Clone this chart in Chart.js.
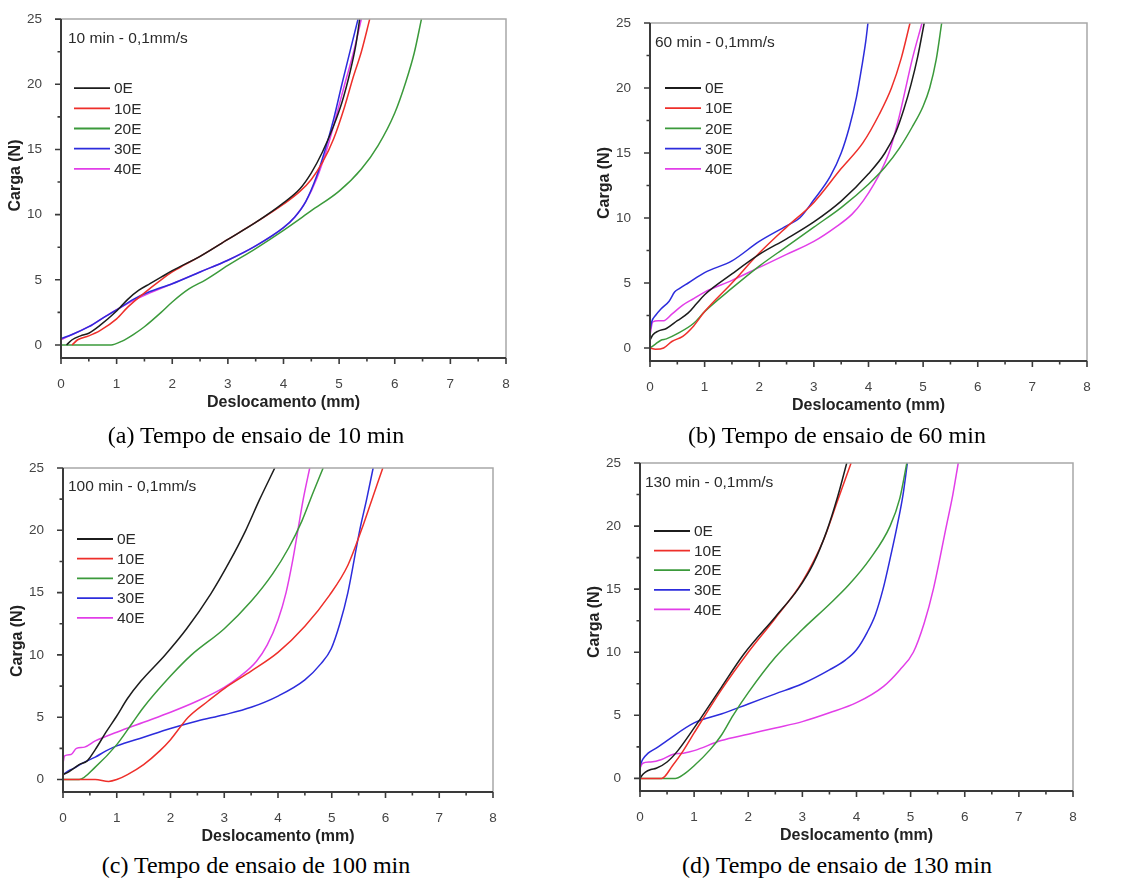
<!DOCTYPE html>
<html><head><meta charset="utf-8">
<script src="https://cdn.jsdelivr.net/npm/chart.js@4.4.1/dist/chart.umd.min.js"></script>
<style>
html,body{margin:0;padding:0;background:#fff;width:1140px;height:878px;overflow:hidden}
.panel{position:absolute}
.panel canvas{display:block}
.cap{position:absolute;font-family:"Liberation Serif","Times New Roman",serif;font-size:24px;line-height:28px;color:#000;white-space:nowrap;transform:translateX(-50%)}
</style></head><body>
<div class="panel" style="left:0;top:0"><canvas id="ca" width="565" height="420"></canvas></div>
<div class="panel" style="left:570px;top:0"><canvas id="cb" width="570" height="420"></canvas></div>
<div class="panel" style="left:0;top:440px"><canvas id="cc" width="565" height="410"></canvas></div>
<div class="panel" style="left:570px;top:440px"><canvas id="cd" width="570" height="410"></canvas></div>
<div class="cap" style="left:256px;top:421px">(a) Tempo de ensaio de 10 min</div>
<div class="cap" style="left:837px;top:421px">(b) Tempo de ensaio de 60 min</div>
<div class="cap" style="left:256px;top:851px">(c) Tempo de ensaio de 100 min</div>
<div class="cap" style="left:837px;top:851px">(d) Tempo de ensaio de 130 min</div>
<script>
// ---------- data ----------
const SERIES = ['0E', '10E', '20E', '30E', '40E'];
const X_TICKS = [0, 1, 2, 3, 4, 5, 6, 7, 8];
const X_MINOR = [0.5, 1.5, 2.5, 3.5, 4.5, 5.5, 6.5, 7.5];
const Y_TICKS = [0, 5, 10, 15, 20, 25];
const Y_MINOR = [2.5, 7.5, 12.5, 17.5, 22.5];
const X_TITLE = 'Deslocamento (mm)';
const Y_TITLE = 'Carga (N)';
const NOTES = ['10 min - 0,1mm/s', '60 min - 0,1mm/s', '100 min - 0,1mm/s', '130 min - 0,1mm/s'];

// (a) 10 min
const A_X_0E  = [0.1, 0.2, 0.35, 0.5, 0.7, 1.0, 1.2, 1.4, 1.6, 1.8, 2.0, 2.5, 3.0, 3.5, 4.0, 4.3, 4.5, 4.7, 4.9, 5.05, 5.2, 5.3, 5.37];
const A_Y_0E  = [0, 0.4, 0.7, 0.9, 1.5, 2.6, 3.5, 4.2, 4.7, 5.2, 5.7, 6.8, 8.1, 9.4, 10.9, 12.0, 13.2, 14.8, 16.8, 18.6, 21.0, 23.0, 25];
const A_X_10E = [0.2, 0.3, 0.5, 0.7, 1.0, 1.2, 1.5, 1.8, 2.0, 2.2, 2.5, 3.0, 3.5, 4.0, 4.3, 4.5, 4.7, 4.9, 5.1, 5.25, 5.4, 5.55];
const A_Y_10E = [0, 0.4, 0.7, 1.1, 2.0, 2.9, 4.0, 5.0, 5.6, 6.1, 6.8, 8.1, 9.4, 10.8, 11.8, 12.7, 14.0, 15.8, 18.3, 20.5, 22.5, 25];
const A_X_20E = [0, 0.5, 0.9, 1.1, 1.3, 1.5, 1.8, 2.0, 2.3, 2.6, 3.0, 3.5, 4.0, 4.5, 5.0, 5.4, 5.7, 6.0, 6.2, 6.35, 6.48];
const A_Y_20E = [0, 0, 0, 0.3, 0.8, 1.4, 2.5, 3.3, 4.3, 5.0, 6.1, 7.4, 8.8, 10.3, 11.8, 13.5, 15.3, 17.8, 20.2, 22.4, 25];
const A_X_30E = [0, 0.2, 0.5, 0.8, 1.0, 1.3, 1.6, 2.0, 2.5, 3.0, 3.5, 4.0, 4.2, 4.4, 4.6, 4.75, 4.9, 5.05, 5.2, 5.34];
const A_Y_30E = [0.5, 0.8, 1.4, 2.2, 2.7, 3.5, 4.1, 4.7, 5.6, 6.5, 7.6, 9.0, 9.8, 11.0, 13.0, 15.0, 17.3, 20.0, 22.6, 25];
const A_X_40E = [0, 0.2, 0.5, 0.8, 1.0, 1.3, 1.6, 2.0, 2.5, 3.0, 3.5, 4.0, 4.2, 4.4, 4.6, 4.8, 4.95, 5.1, 5.25, 5.4];
const A_Y_40E = [0.4, 0.8, 1.4, 2.2, 2.7, 3.4, 4.0, 4.7, 5.6, 6.5, 7.6, 9.0, 9.8, 11.0, 12.8, 15.3, 17.6, 20.0, 22.3, 25];

// (b) 60 min
const B_X_0E  = [0, 0.05, 0.15, 0.3, 0.5, 0.7, 0.85, 1.0, 1.5, 2.0, 2.5, 3.0, 3.5, 4.0, 4.3, 4.5, 4.65, 4.78, 4.9, 5.02];
const B_Y_0E  = [0.6, 1.0, 1.3, 1.5, 2.1, 2.7, 3.4, 4.1, 5.7, 7.2, 8.4, 9.7, 11.3, 13.4, 15.0, 16.6, 18.4, 20.3, 22.4, 25];
const B_X_10E = [0, 0.1, 0.25, 0.4, 0.6, 0.8, 1.0, 1.5, 2.0, 2.5, 3.0, 3.5, 3.9, 4.2, 4.42, 4.6, 4.76];
const B_Y_10E = [0, -0.1, 0, 0.5, 0.9, 1.7, 2.8, 5.0, 7.3, 9.3, 11.2, 13.8, 15.8, 18.0, 20.0, 22.3, 25];
const B_X_20E = [0, 0.1, 0.2, 0.3, 0.5, 0.8, 1.0, 1.5, 2.0, 2.5, 3.0, 3.5, 4.0, 4.3, 4.57, 4.8, 5.0, 5.12, 5.24, 5.34];
const B_Y_20E = [0, 0.3, 0.6, 0.7, 1.1, 1.9, 2.8, 4.6, 6.3, 7.8, 9.3, 10.8, 12.6, 13.9, 15.4, 17.0, 18.6, 20.0, 22.2, 25];
const B_X_30E = [0, 0.03, 0.1, 0.2, 0.35, 0.45, 0.55, 0.7, 1.0, 1.5, 2.0, 2.5, 2.74, 3.0, 3.3, 3.5, 3.65, 3.78, 3.88, 3.95, 3.99];
const B_Y_30E = [1.3, 2.0, 2.5, 3.0, 3.6, 4.3, 4.6, 5.0, 5.8, 6.7, 8.2, 9.4, 10.0, 11.4, 13.2, 15.0, 17.0, 19.3, 21.7, 23.6, 25];
const B_X_40E = [0, 0.05, 0.15, 0.25, 0.4, 0.6, 0.8, 1.0, 1.5, 2.0, 2.5, 3.0, 3.4, 3.7, 3.9, 4.1, 4.25, 4.39, 4.55, 4.66, 4.8, 4.98];
const B_Y_40E = [1.0, 2.0, 2.1, 2.1, 2.6, 3.3, 3.8, 4.3, 5.2, 6.2, 7.2, 8.2, 9.3, 10.3, 11.3, 12.6, 13.8, 15.2, 17.6, 19.6, 22.2, 25];

// (c) 100 min
const C_X_0E  = [0, 0.1, 0.2, 0.3, 0.45, 0.6, 0.8, 1.0, 1.2, 1.45, 1.9, 2.3, 2.75, 3.1, 3.4, 3.65, 3.94];
const C_Y_0E  = [0.4, 0.6, 0.9, 1.2, 1.5, 2.4, 3.8, 5.1, 6.5, 7.9, 10.0, 12.1, 14.9, 17.5, 20.0, 22.4, 25];
const C_X_10E = [0, 0.3, 0.6, 0.85, 1.0, 1.2, 1.5, 1.8, 2.0, 2.33, 2.7, 3.0, 3.5, 4.0, 4.5, 4.96, 5.3, 5.55, 5.75, 5.95];
const C_Y_10E = [0, 0, 0, -0.15, 0, 0.4, 1.2, 2.3, 3.2, 5.0, 6.3, 7.3, 8.7, 10.2, 12.3, 14.8, 17.2, 20.0, 22.5, 25];
const C_X_20E = [0, 0.3, 0.6, 1.0, 1.3, 1.5, 2.0, 2.39, 3.0, 3.5, 3.9, 4.2, 4.45, 4.65, 4.84];
const C_Y_20E = [0, 0, 1.0, 2.8, 4.6, 5.8, 8.3, 10.0, 12.1, 14.3, 16.5, 18.6, 20.8, 23.0, 25];
const C_X_30E = [0, 0.1, 0.2, 0.4, 0.6, 0.8, 1.0, 1.5, 2.0, 2.5, 3.0, 3.5, 4.0, 4.5, 4.8, 4.99, 5.15, 5.3, 5.52, 5.65, 5.77];
const C_Y_30E = [0.4, 0.7, 0.9, 1.4, 1.8, 2.3, 2.7, 3.4, 4.1, 4.7, 5.2, 5.8, 6.7, 8.0, 9.3, 10.5, 12.5, 15.0, 20.0, 22.5, 25];
const C_X_40E = [0, 0.03, 0.15, 0.25, 0.4, 0.6, 1.0, 1.5, 2.0, 2.5, 3.0, 3.3, 3.6, 3.8, 4.0, 4.15, 4.27, 4.37, 4.47, 4.59];
const C_Y_40E = [1.3, 1.9, 2.0, 2.5, 2.6, 3.1, 3.8, 4.6, 5.4, 6.3, 7.4, 8.3, 9.5, 10.8, 12.8, 15.0, 17.5, 20.0, 22.5, 25];

// (d) 130 min
const D_X_0E  = [0, 0.05, 0.1, 0.2, 0.3, 0.5, 0.7, 1.0, 1.5, 1.91, 2.5, 2.92, 3.2, 3.45, 3.65, 3.82];
const D_Y_0E  = [0, 0.3, 0.5, 0.7, 0.8, 1.3, 2.2, 4.0, 7.2, 9.8, 12.8, 15.0, 17.0, 19.6, 22.3, 25];
const D_X_10E = [0, 0.4, 0.6, 0.8, 1.0, 1.5, 2.0, 2.5, 3.0, 3.4, 3.65, 3.9];
const D_Y_10E = [0, 0, 1.0, 2.2, 3.6, 7.0, 10.0, 12.7, 15.6, 19.0, 22.0, 25];
const D_X_20E = [0, 0.65, 0.8, 1.0, 1.3, 1.5, 1.72, 2.0, 2.5, 3.0, 3.5, 3.85, 4.25, 4.62, 4.8, 4.93];
const D_Y_20E = [0, 0, 0.3, 1.0, 2.3, 3.4, 5.0, 6.8, 9.6, 11.8, 13.8, 15.3, 17.4, 20.0, 22.2, 25];
const D_X_30E = [0, 0.05, 0.15, 0.3, 0.5, 1.0, 1.5, 2.0, 2.5, 3.0, 3.5, 3.8, 4.0, 4.2, 4.35, 4.49, 4.63, 4.75, 4.86, 4.94];
const D_Y_30E = [1.0, 1.5, 2.0, 2.4, 3.0, 4.4, 5.1, 5.9, 6.7, 7.5, 8.6, 9.4, 10.2, 11.6, 13.0, 15.0, 17.6, 20.0, 22.5, 25];
const D_X_40E = [0, 0.05, 0.2, 0.4, 0.6, 0.8, 1.0, 1.5, 2.0, 2.5, 3.0, 3.5, 4.0, 4.5, 4.8, 5.05, 5.25, 5.42, 5.66, 5.78, 5.88];
const D_Y_40E = [0.8, 1.2, 1.3, 1.5, 1.9, 2.0, 2.2, 3.0, 3.5, 4.0, 4.5, 5.2, 6.0, 7.3, 8.6, 10.0, 12.3, 15.0, 20.0, 22.5, 25];

// ---------- styling ----------
const COLORS = ['#1c1c1c', '#ee2f2a', '#3b9a3b', '#2c2cdc', '#e23ee8'];
const FONT = '"Liberation Sans", Arial, Helvetica, sans-serif';

const PANELS = [
  { id: 'ca', xs: [A_X_0E, A_X_10E, A_X_20E, A_X_30E, A_X_40E], ys: [A_Y_0E, A_Y_10E, A_Y_20E, A_Y_30E, A_Y_40E], note: NOTES[0],
    pad: { left: 0, top: 19, right: 59, bottom: 0 }, yw: 61, xh: 62, noteDx: 7, noteDy: 20, legDx: 13, legDy: 69, legStep: 20.2, ytDy: -13 },
  { id: 'cb', xs: [B_X_0E, B_X_10E, B_X_20E, B_X_30E, B_X_40E], ys: [B_Y_0E, B_Y_10E, B_Y_20E, B_Y_30E, B_Y_40E], note: NOTES[1],
    pad: { left: 0, top: 23, right: 53, bottom: 0 }, yw: 80, xh: 59, noteDx: 5, noteDy: 20, legDx: 15, legDy: 65, legStep: 20.2, ytDy: -9 },
  { id: 'cc', xs: [C_X_0E, C_X_10E, C_X_20E, C_X_30E, C_X_40E], ys: [C_Y_0E, C_Y_10E, C_Y_20E, C_Y_30E, C_Y_40E], note: NOTES[2],
    pad: { left: 0, top: 28, right: 72, bottom: 0 }, yw: 63, xh: 58, noteDx: 5, noteDy: 19, legDx: 14, legDy: 71, legStep: 19.7, ytDy: 11 },
  { id: 'cd', xs: [D_X_0E, D_X_10E, D_X_20E, D_X_30E, D_X_40E], ys: [D_Y_0E, D_Y_10E, D_Y_20E, D_Y_30E, D_Y_40E], note: NOTES[3],
    pad: { left: 0, top: 23, right: 67, bottom: 0 }, yw: 70, xh: 59, noteDx: 5, noteDy: 20, legDx: 14, legDy: 68, legStep: 19.6, ytDy: -5 }
];

const deco = {
  id: 'deco',
  afterDraw(chart, args, o) {
    const { ctx, chartArea: a, scales: { x, y } } = chart;
    ctx.save();
    // top/right frame
    ctx.strokeStyle = '#a8a8a8'; ctx.lineWidth = 1.5;
    ctx.beginPath(); ctx.moveTo(a.left, a.top); ctx.lineTo(a.right, a.top); ctx.lineTo(a.right, a.bottom); ctx.stroke();
    // axes
    ctx.strokeStyle = '#3a3a3a'; ctx.lineWidth = 2;
    ctx.beginPath(); ctx.moveTo(a.left, a.top); ctx.lineTo(a.left, a.bottom); ctx.lineTo(a.right, a.bottom); ctx.stroke();
    // ticks
    ctx.lineWidth = 1.6;
    ctx.beginPath();
    X_TICKS.forEach(v => { const px = x.getPixelForValue(v); ctx.moveTo(px, a.bottom); ctx.lineTo(px, a.bottom + 6); });
    X_MINOR.forEach(v => { const px = x.getPixelForValue(v); ctx.moveTo(px, a.bottom); ctx.lineTo(px, a.bottom + 3.5); });
    Y_TICKS.forEach(v => { const py = y.getPixelForValue(v); ctx.moveTo(a.left, py); ctx.lineTo(a.left - 6, py); });
    Y_MINOR.forEach(v => { const py = y.getPixelForValue(v); ctx.moveTo(a.left, py); ctx.lineTo(a.left - 3.5, py); });
    ctx.stroke();
    // titles
    ctx.fillStyle = '#222';
    ctx.font = 'bold 16px ' + FONT;
    ctx.textAlign = 'center'; ctx.textBaseline = 'middle';
    ctx.fillText(X_TITLE, (a.left + a.right) / 2, a.bottom + 45);
    ctx.save();
    ctx.translate(a.left - 45, (a.top + a.bottom) / 2 + o.ytDy);
    ctx.rotate(-Math.PI / 2);
    ctx.fillText(Y_TITLE, 0, 0);
    ctx.restore();
    // note
    ctx.font = '15.5px ' + FONT; ctx.fillStyle = '#2a2a2a';
    ctx.textAlign = 'left';
    ctx.fillText(o.note, a.left + o.noteDx, a.top + o.noteDy);
    // legend
    chart.data.datasets.forEach((ds, i) => {
      const ly = a.top + o.legDy + i * o.legStep;
      const lx = a.left + o.legDx;
      ctx.strokeStyle = ds.borderColor; ctx.lineWidth = 1.8;
      ctx.beginPath(); ctx.moveTo(lx, ly); ctx.lineTo(lx + 36, ly); ctx.stroke();
      ctx.fillStyle = '#2a2a2a'; ctx.font = '15.5px ' + FONT;
      ctx.fillText(ds.label, lx + 40, ly + 1);
    });
    ctx.restore();
  }
};

PANELS.forEach(p => {
  const datasets = SERIES.map((name, i) => ({
    label: name,
    data: p.xs[i].map((xv, k) => ({ x: xv, y: p.ys[i][k] })),
    borderColor: COLORS[i],
    borderWidth: 1.5,
    pointRadius: 0,
    fill: false,
    cubicInterpolationMode: 'monotone'
  }));
  new Chart(document.getElementById(p.id), {
    type: 'line',
    data: { datasets },
    options: {
      responsive: false,
      animation: false,
      events: [],
      layout: { padding: p.pad },
      plugins: {
        legend: { display: false },
        tooltip: { enabled: false },
        deco: { note: p.note, noteDx: p.noteDx, noteDy: p.noteDy, legDx: p.legDx, legDy: p.legDy, legStep: p.legStep, ytDy: p.ytDy }
      },
      scales: {
        x: {
          type: 'linear', min: 0, max: 8,
          grid: { display: false }, border: { display: false },
          afterBuildTicks: s => { s.ticks = X_TICKS.map(v => ({ value: v })); },
          afterFit: s => { s.height = p.xh; },
          ticks: { padding: 10, maxRotation: 0, color: '#444', font: { size: 13.5, family: FONT }, callback: v => String(v) }
        },
        y: {
          type: 'linear', min: -1, max: 25,
          grid: { display: false }, border: { display: false },
          afterBuildTicks: s => { s.ticks = Y_TICKS.map(v => ({ value: v })); },
          afterFit: s => { s.width = p.yw; },
          ticks: { padding: 11, color: '#444', font: { size: 13.5, family: FONT }, callback: v => String(v) }
        }
      }
    },
    plugins: [deco]
  });
});
</script>
</body></html>
